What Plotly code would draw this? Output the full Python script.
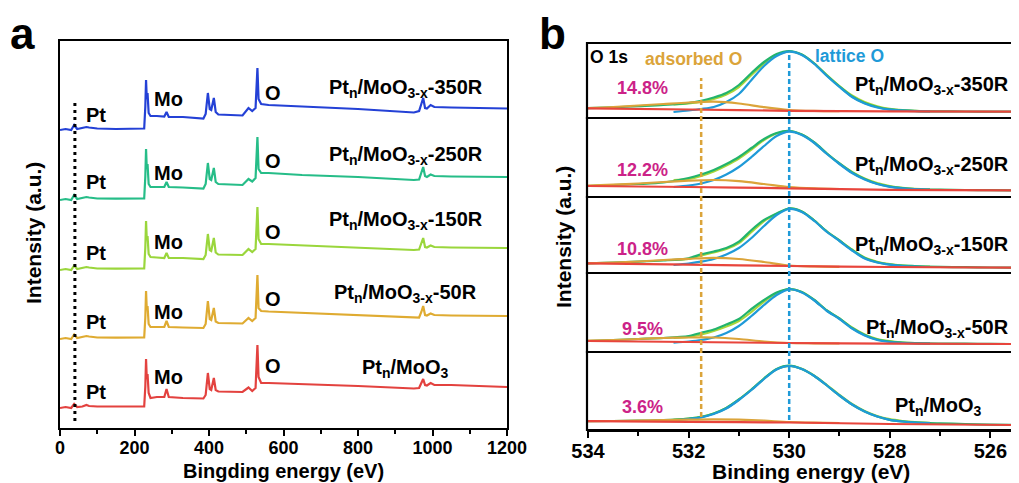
import plotly.graph_objects as go

# ================= Panel a : XPS survey spectra =================
E_SURVEY = [0, 15, 30, 38, 46, 60, 71, 78, 100, 150,
            200, 226, 229, 231, 233, 235, 238, 243, 260, 280,
            286, 292, 330, 385, 391, 397, 402, 406, 413, 418,
            425, 490, 506, 516, 525, 530, 533, 540, 560, 650,
            800, 950, 964, 970, 975, 980, 985, 995, 1005, 1050, 1200]

SURVEY_350R = [-1, 0, -1, 4, 0, 1, 2, 1.5, 0.5, 0,
               0, 0.5, 22, 49, 30, 36, 16, 13, 13, 12.5,
               17, 12, 12, 10.5, 15, 36, 20, 19, 31, 17,
               14.5, 13.5, 21, 18, 21, 61, 30, 25, 24, 22.5,
               20, 16.5, 18, 25, 31, 21, 20.5, 24, 22, 21.5, 20.5]
SURVEY_250R = [-1, 0, -1, 4, 0, 1, 2, 1.5, 0.5, 0.3,
               0.3, 0.5, 22, 50, 30, 35, 15, 12, 12, 12,
               17, 12, 11.5, 10.5, 15, 36, 20, 19, 31, 17,
               15, 14, 20, 17.5, 21, 62, 30, 26, 26, 24,
               22, 19, 19.5, 26, 32, 23, 22, 24.5, 23, 22.5, 22]
SURVEY_150R = [-1, 0, -1, 3.5, 0, 1, 2, 1.5, 0.5, 0.3,
               0.3, 0.5, 21, 48, 29, 33, 15, 12, 11.5, 11,
               16, 11, 11, 10, 14, 35, 19, 18, 31, 16.5,
               14.5, 14, 20, 17, 20, 62, 30, 25, 25, 23.5,
               21.5, 19, 19.5, 25, 31, 22, 21.5, 23.5, 22, 21.5, 21]
SURVEY_50R = [-1, 0, -1, 3.5, 0, 1, 2, 1.5, 0.5, 0.3,
              0.3, 0.5, 20, 47, 28, 32, 14, 11, 11, 11,
              17, 11, 10.5, 10, 14, 37, 19, 18, 30, 16.5,
              15, 14.5, 20, 17, 20, 63, 30, 27, 26.5, 25,
              23, 20, 20.5, 26, 32, 23, 22.5, 24.5, 23, 22.5, 22]
SURVEY_PRISTINE = [-1, 0, -1, 3, 0, 0.5, 2, 1, 0.5, 0.3,
                   0.3, 0.5, 20, 48, 28, 33, 14, 9, 10, 10,
                   18, 10, 9, 8.5, 12, 34, 18, 17, 29, 17,
                   15.5, 15, 19.5, 16, 19, 62, 30, 24, 24, 23,
                   21, 18.5, 19, 24, 28, 22, 21.5, 24, 22, 22, 20]

SAMPLES = ["Pt<sub>n</sub>/MoO<sub>3-x</sub>-350R",
           "Pt<sub>n</sub>/MoO<sub>3-x</sub>-250R",
           "Pt<sub>n</sub>/MoO<sub>3-x</sub>-150R",
           "Pt<sub>n</sub>/MoO<sub>3-x</sub>-50R",
           "Pt<sub>n</sub>/MoO<sub>3</sub>"]
PT_LINE_EV = 40

# ================= Panel b : O 1s spectra =================
E_BASE = [534.0, 532.0, 530.0, 528.0, 525.55]
E_ADS = [534.0, 533.5, 533.0, 532.5, 532.0, 531.5, 531.0, 530.5, 530.0, 529.5, 529.0]
E_LAT = [532.3, 532.0, 531.75, 531.5, 531.25, 531.0, 530.75, 530.5, 530.25, 530.0,
         529.75, 529.5, 529.25, 529.0, 528.75, 528.5, 528.25, 528.0, 527.75, 527.5, 527.2]
E_ENV = [534.0, 533.5, 533.0, 532.5, 532.0, 531.75, 531.5, 531.25, 531.0, 530.75,
         530.5, 530.25, 530.0, 529.75, 529.5, 529.25, 529.0, 528.75, 528.5, 528.25,
         528.0, 527.5, 527.0, 526.5, 526.0, 525.55]

BASE_350R = [9.7, 8.5, 7.2, 6.6, 6.3]
ADS_350R = [10, 11, 12.5, 14, 15.5, 16.3, 14.5, 10.8, 8, 7.1, 6.9]
LAT_350R = [6, 7.5, 9, 11, 16, 24, 38, 52, 62, 66.3, 63, 54, 42, 31, 21, 14.5, 10.5, 8.3, 7.3, 6.9, 6.7]
RAW_350R = [13.5, 14.5, 16, 19, 23.5, 31, 43, 54.5, 63, 66.5, 63.5, 54.5, 43, 32, 22.5, 16, 11.8, 9.2, 7.8, 7.2, 6.8]
ENV_350R = [9.8, 10.7, 11.8, 13, 15, 17.2, 20.5, 25, 33, 45, 56, 64, 67, 63.5, 54.5, 42.5,
            31.5, 21.5, 15, 11, 8.6, 7.2, 6.7, 6.5, 6.4, 6.3]

BASE_250R = [11, 10, 8.7, 7.2, 6.7]
ADS_250R = [11.3, 12.3, 13.5, 15, 16.3, 17, 15.8, 13, 10, 8.6, 8]
LAT_250R = [10, 11.5, 13.5, 17, 22.5, 30, 40, 51, 61, 65.3, 62, 54, 43, 33, 24, 17.5, 13, 10.2, 8.7, 7.8, 7.4]
RAW_250R = [17, 18, 21, 25.5, 31.5, 38.5, 47.5, 57, 63.5, 66, 62.5, 54.5, 43.5, 33.5, 25, 18.5, 14, 11, 9.2, 8.2, 7.6]
ENV_250R = [11, 12, 13, 14.5, 19, 22.5, 27, 33, 40, 49, 58, 64, 66, 62.5, 54.5, 43.5,
            33.5, 24.5, 18, 13.3, 10.5, 8, 7.3, 7, 6.8, 6.7]

BASE_150R = [9.7, 8.4, 7, 6, 5.3]
ADS_150R = [9.7, 10.5, 11.5, 13, 14.2, 15.2, 14, 11, 7.5, 6.6, 6.2]
LAT_150R = [8, 9.5, 11.3, 14, 18.5, 25, 35, 47, 58, 64, 61, 52, 41, 32, 22.5, 14.5, 10.5, 8.3, 7, 6.4, 6]
RAW_150R = [13, 14, 17.5, 20.5, 24, 30, 41, 52, 59, 64.5, 61.5, 52.5, 41.5, 32.5, 23.5, 15.5, 11.3, 8.9, 7.5, 6.7, 6.3]
ENV_150R = [9.7, 10.5, 11.3, 12.5, 14.7, 18.7, 21.5, 25, 31.3, 43, 53, 59.5, 64.5, 61.5, 52.5, 41.5,
            32.5, 23, 15, 10.8, 8.5, 7, 6.2, 5.8, 5.5, 5.3]

BASE_50R = [11, 10, 9, 8.3, 8]
ADS_50R = [11.3, 12, 13, 14, 14.5, 14.5, 13, 10.5, 9, 8.7, 8.5]
LAT_50R = [9.3, 10.5, 12, 14.5, 19, 26, 36, 47, 57, 62.7, 59.5, 51.5, 41, 33, 23.5, 16.5, 12, 10, 9, 8.5, 8.3]
RAW_50R = [14, 15, 17.5, 21, 25.5, 31, 40, 50.5, 58.5, 62.8, 60, 52, 41.5, 33.5, 24.5, 17.5, 13, 10.8, 9.5, 8.8, 8.4]
ENV_50R = [11, 12, 13, 14, 16, 19.3, 22.5, 27.5, 33, 43, 52, 59.5, 63, 60, 52, 41.5,
           33.5, 24, 17, 12.5, 10.5, 9, 8.5, 8.3, 8.1, 8]

BASE_PRISTINE = [8.8, 8.2, 7.5, 6, 5]
ADS_PRISTINE = [8.8, 9, 9.4, 9.9, 10.4, 10.7, 10.3, 9.3, 8, 7.4, 7]
LAT_PRISTINE = [9.5, 11, 12.7, 16, 21.5, 30, 40, 51, 60.5, 64, 61, 54, 44.5, 34.5, 25.5, 18.5, 13.5, 10.2, 8.5, 7.5, 7]
RAW_PRISTINE = [10.2, 11.5, 13.2, 16.5, 22, 30.5, 40.5, 51.5, 60.8, 64.2, 61.2, 54.3, 45, 35, 26, 19, 14, 10.8, 9, 7.9, 7.2]
ENV_PRISTINE = [8.8, 9, 9.4, 10, 11.5, 13, 16.5, 22, 30.5, 40.5, 51.5, 61, 64.3, 61, 54, 44.5,
                34.5, 25.5, 18.5, 13.5, 10.2, 7.6, 6.6, 6, 5.4, 5]

ADSORBED_FRACTION = ["14.8%", "12.2%", "10.8%", "9.5%", "3.6%"]
ADSORBED_O_EV = 531.75
LATTICE_O_EV = 530.0

# ================= figure =================
W, H = 1019, 483
OFF = 8  # page offset of the plot div in the browser
FONT = "Liberation Sans, Arial, sans-serif"


def fx(px):
    return (px - OFF) / W


def fy(py):
    return 1 - (py - OFF) / H


fig = go.Figure()

# ---- panel a
SURVEY_COLORS = ["#2441d6", "#26bd88", "#9ad63c", "#dfab31", "#e3423f"]
STACK_OFFSETS = [299, 229, 159, 90, 21]
survey = [SURVEY_350R, SURVEY_250R, SURVEY_150R, SURVEY_50R, SURVEY_PRISTINE]
for vals, off, col in zip(survey, STACK_OFFSETS, SURVEY_COLORS):
    fig.add_trace(go.Scatter(x=E_SURVEY, y=[v + off for v in vals], mode="lines",
                             line=dict(color=col, width=2.2), xaxis="x", yaxis="y",
                             showlegend=False, hoverinfo="skip"))

# ---- panel b
C_ENV, C_RAW, C_LAT, C_ADS, C_BASE = "#22b46c", "#a9d63a", "#1f9ad8", "#dba43a", "#e8453c"
sets = [
    (ENV_350R, RAW_350R, LAT_350R, ADS_350R, BASE_350R),
    (ENV_250R, RAW_250R, LAT_250R, ADS_250R, BASE_250R),
    (ENV_150R, RAW_150R, LAT_150R, ADS_150R, BASE_150R),
    (ENV_50R, RAW_50R, LAT_50R, ADS_50R, BASE_50R),
    (ENV_PRISTINE, RAW_PRISTINE, LAT_PRISTINE, ADS_PRISTINE, BASE_PRISTINE),
]
for k, (env, raw, lat, ads, base) in enumerate(sets):
    ya = "y%d" % (k + 2)
    for xs, ys, col in [(E_LAT, raw, C_RAW), (E_ENV, env, C_ENV), (E_LAT, lat, C_LAT),
                        (E_ADS, ads, C_ADS), (E_BASE, base, C_BASE)]:
        fig.add_trace(go.Scatter(x=xs, y=ys, mode="lines",
                                 line=dict(color=col, width=2.2, shape="spline", smoothing=0.8),
                                 xaxis="x2", yaxis=ya, showlegend=False, hoverinfo="skip"))

# subpanel pixel frames for panel b (top, bottom)
SUB_PX = [(43, 118), (118, 197), (197, 273), (273, 352), (352, 430)]
SUB_RANGE = [75, 79, 76, 79, 78]

layout = dict(
    template="none",
    width=W, height=H, margin=dict(l=0, r=0, t=0, b=0, pad=0, autoexpand=False),
    paper_bgcolor="white", plot_bgcolor="white",
    font=dict(family=FONT, color="black"),
    xaxis=dict(domain=[fx(60), fx(507)], anchor="y", range=[0, 1200], automargin=False,
               tickvals=[0, 200, 400, 600, 800, 1000, 1200],
               showline=True, mirror=True, linecolor="black", linewidth=2,
               ticks="outside", ticklen=6, tickwidth=2, tickcolor="black",
               ticklabelstandoff=-4,
               minor=dict(tickvals=[100, 300, 500, 700, 900, 1100], ticks="outside",
                          ticklen=4, tickwidth=2, tickcolor="black"),
               showgrid=False, zeroline=False,
               tickfont=dict(family=FONT, size=18, color="black", weight="bold")),
    yaxis=dict(domain=[fy(428), fy(41)], anchor="x", range=[0, 387], automargin=False,
               showline=True, mirror=True, linecolor="black", linewidth=2,
               showticklabels=False, ticks="", showgrid=False, zeroline=False),
    xaxis2=dict(domain=[fx(587), fx(1013)], anchor="y6", range=[534.02, 525.55],
                automargin=False, tickvals=[534, 532, 530, 528, 526],
                showline=True, linecolor="black", linewidth=2,
                ticks="outside", ticklen=6, tickwidth=2, tickcolor="black",
                ticklabelstandoff=-4,
                minor=dict(tickvals=[533, 531, 529, 527], ticks="outside",
                           ticklen=4, tickwidth=2, tickcolor="black"),
                showgrid=False, zeroline=False,
                tickfont=dict(family=FONT, size=20, color="black", weight="bold")),
)
for k, ((top, bot), rng) in enumerate(zip(SUB_PX, SUB_RANGE)):
    layout["yaxis%d" % (k + 2)] = dict(domain=[fy(bot), fy(top)], anchor="x2", range=[0, rng],
                                       automargin=False, showticklabels=False, ticks="",
                                       showgrid=False, zeroline=False, showline=False)
fig.update_layout(**layout)

shapes = []
for k in range(5):
    shapes.append(dict(type="rect", xref="x2 domain", yref="y%d domain" % (k + 2),
                       x0=0, x1=1, y0=0, y1=1, line=dict(color="black", width=2.2),
                       layer="above"))
shapes.append(dict(type="line", xref="x", yref="paper", x0=PT_LINE_EV, x1=PT_LINE_EV,
                   y0=fy(421), y1=fy(100), line=dict(color="black", width=3, dash="3px,4px")))
shapes.append(dict(type="line", xref="x2", yref="paper", x0=ADSORBED_O_EV, x1=ADSORBED_O_EV,
                   y0=fy(417), y1=fy(78), line=dict(color="#dba43a", width=2.5, dash="5px,3px")))
shapes.append(dict(type="line", xref="x2", yref="paper", x0=LATTICE_O_EV, x1=LATTICE_O_EV,
                   y0=fy(420), y1=fy(53), line=dict(color="#1f9ad8", width=2.5, dash="5px,3px")))
fig.update_layout(shapes=shapes)

ann = []


def txt(text, x, y, xref, yref, size, color="black", xanchor="center", yanchor="middle", angle=0):
    ann.append(dict(text=text, x=x, y=y, xref=xref, yref=yref, showarrow=False,
                    xanchor=xanchor, yanchor=yanchor, textangle=angle,
                    font=dict(family=FONT, size=size, color=color, weight="bold")))


# panel a labels (y in panel-a data units)
PT_Y = [313, 246, 175, 106, 36]
MO_Y = [329, 255, 186, 116, 51]
O_Y = [335, 267, 196, 129, 62]
LAB_Y = [340, 273, 208, 135, 60]
for i in range(5):
    txt("Pt", 96, PT_Y[i], "x", "y", 20)
    txt("Mo", 291, MO_Y[i], "x", "y", 20)
    txt("O", 572, O_Y[i], "x", "y", 20)
    txt(SAMPLES[i], 928, LAB_Y[i], "x", "y", 20)

# panel b labels
PCT_Y = [30, 27, 24, 23, 23]
SLAB_Y = [33, 32, 27, 24, 24]
for k in range(5):
    ya = "y%d" % (k + 2)
    txt(ADSORBED_FRACTION[k], 532.91, PCT_Y[k], "x2", ya, 18, color="#cc2288")
    if k < 4:
        txt(SAMPLES[k], 525.58, SLAB_Y[k], "x2", ya, 20, xanchor="right")
    else:
        txt(SAMPLES[k], 527.03, SLAB_Y[k], "x2", ya, 20)
txt("O 1s", 533.58, 61, "x2", "y2", 17.5)
txt("adsorbed O", 531.9, 59, "x2", "y2", 17.5, color="#dba43a")
txt("lattice O", 528.81, 62, "x2", "y2", 17.5, color="#1f9ad8")

# axis titles and panel letters
txt("Intensity (a.u.)", fx(33), fy(233), "paper", "paper", 21, angle=-90)
txt("Intensity (a.u.)", fx(563), fy(237), "paper", "paper", 21, angle=-90)
txt("Bingding energy (eV)", fx(283), fy(471), "paper", "paper", 20)
txt("Binding energy (eV)", fx(811), fy(471), "paper", "paper", 21)
txt("a", fx(22), fy(33), "paper", "paper", 44)
txt("b", fx(552), fy(33), "paper", "paper", 44)
fig.update_layout(annotations=ann)

fig.write_html("out.html")
